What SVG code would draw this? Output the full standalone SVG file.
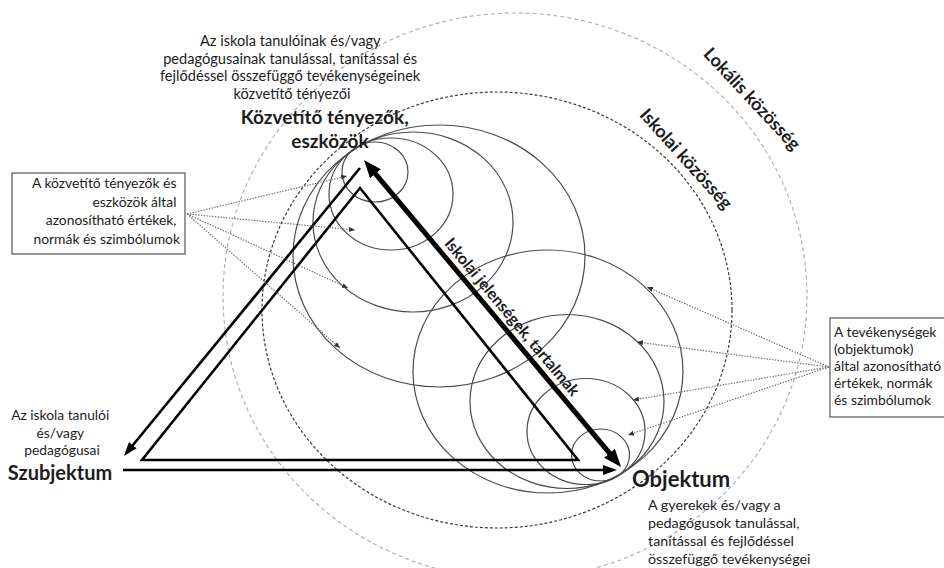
<svg xmlns="http://www.w3.org/2000/svg" width="944" height="568" viewBox="0 0 944 568">
  <defs>
    <style>
      .t{font-family:Lato,"Open Sans","DejaVu Sans",sans-serif;fill:#1c1c1c}
      .cap{font-size:14.6px}
      .box-txt{font-size:13.9px}
      .lbl{font-size:19px;font-weight:bold}
      .ring{fill:none;stroke:#4a4a4a;stroke-width:1.2}
      .dot{fill:none;stroke:#707070;stroke-width:1.2;stroke-dasharray:1.4 1.4}
      .blk{fill:none;stroke:#000;stroke-width:2.6;stroke-linejoin:miter}
      .box{fill:#fff;stroke:#555;stroke-width:1.2}
    </style>
    <marker id="ahThin" viewBox="0 0 10 10" refX="4" refY="5" markerWidth="14" markerHeight="10" markerUnits="userSpaceOnUse" orient="auto" preserveAspectRatio="none">
      <path d="M0,0 L10,5 L0,10 z" fill="#000"/>
    </marker>
    <marker id="ahThick" viewBox="0 0 10 10" refX="4" refY="5" markerWidth="18" markerHeight="14" markerUnits="userSpaceOnUse" orient="auto-start-reverse" preserveAspectRatio="none">
      <path d="M0,0 L10,5 L0,10 z" fill="#000"/>
    </marker>
    <marker id="ahDot" viewBox="0 0 10 10" refX="10" refY="5" markerWidth="6" markerHeight="5" markerUnits="userSpaceOnUse" orient="auto" preserveAspectRatio="none">
      <path d="M0,0 L10,5 L0,10 z" fill="#333"/>
    </marker>
  </defs>

  <rect width="944" height="568" fill="#fff"/>

  <!-- community boundaries -->
  <g id="lokalis-kozosseg">
    <ellipse cx="515" cy="296" rx="292" ry="283" fill="none" stroke="#ababab" stroke-width="1.1" stroke-dasharray="4 3"/>
    <text class="t" font-size="18" font-weight="bold" text-anchor="middle" transform="translate(752,99) rotate(47)" y="6">Lokális közösség</text>
  </g>
  <g id="iskolai-kozosseg">
    <ellipse cx="497" cy="310" rx="235" ry="218" fill="none" stroke="#3a3a3a" stroke-width="1.2" stroke-dasharray="3 2"/>
    <text class="t" font-size="18" font-weight="bold" text-anchor="middle" transform="translate(686,159) rotate(48)" y="6">Iskolai közösség</text>
  </g>

  <!-- nested spheres around the mediating factors -->
  <g id="kozvetito-korok">
    <ellipse class="ring" cx="439" cy="256" rx="146" ry="131"/>
    <ellipse class="ring" cx="413" cy="222" rx="100" ry="90"/>
    <ellipse class="ring" cx="391" cy="194" rx="62" ry="56"/>
    <ellipse class="ring" cx="375" cy="172" rx="33" ry="30"/>
  </g>

  <!-- nested spheres around the object -->
  <g id="objektum-korok">
    <ellipse class="ring" cx="548" cy="371.5" rx="135" ry="121.5"/>
    <ellipse class="ring" cx="567" cy="401.5" rx="97" ry="87"/>
    <ellipse class="ring" cx="586" cy="431.5" rx="59" ry="53"/>
    <ellipse class="ring" cx="600.5" cy="455" rx="29" ry="26"/>
  </g>

  <!-- connectors -->
  <g id="connectors">
    <!-- inner triangle -->
    <polygon class="blk" points="360,188 142,460 578,460"/>
    <!-- mediating factors to subject -->
    <line class="blk" x1="360" y1="168" x2="129.3" y2="449.5" marker-end="url(#ahThin)"/>
    <!-- subject to object -->
    <line class="blk" x1="123" y1="470" x2="608.6" y2="470" marker-end="url(#ahThin)"/>
    <!-- school phenomena axis -->
    <line x1="370.9" y1="168.3" x2="614.1" y2="458.7" stroke="#000" stroke-width="5" marker-start="url(#ahThick)" marker-end="url(#ahThick)"/>
    <!-- values from the mediating factors -->
    <line class="dot" x1="187" y1="214" x2="347" y2="176" marker-end="url(#ahDot)"/>
    <line class="dot" x1="187" y1="214" x2="355" y2="230" marker-end="url(#ahDot)"/>
    <line class="dot" x1="187" y1="214" x2="348" y2="288" marker-end="url(#ahDot)"/>
    <line class="dot" x1="187" y1="214" x2="340" y2="348" marker-end="url(#ahDot)"/>
    <!-- values from the activities -->
    <line class="dot" x1="829" y1="367" x2="647" y2="287" marker-end="url(#ahDot)"/>
    <line class="dot" x1="829" y1="367" x2="637" y2="342" marker-end="url(#ahDot)"/>
    <line class="dot" x1="829" y1="367" x2="633" y2="400" marker-end="url(#ahDot)"/>
    <line class="dot" x1="829" y1="367" x2="628" y2="435" marker-end="url(#ahDot)"/>
  </g>

  <g id="axis-label">
    <text class="t" font-size="16" font-weight="bold" text-anchor="middle" transform="translate(512,317) rotate(50.1)" y="5.5">Iskolai jelenségek, tartalmak</text>
  </g>

  <g id="kozvetito">
    <text class="t cap" text-anchor="middle">
      <tspan x="292" y="46">Az iskola tanulóinak és/vagy</tspan>
      <tspan x="292" y="63.5">pedagógusainak tanulással, tanítással és</tspan>
      <tspan x="292" y="81">fejlődéssel összefüggő tevékenységeinek</tspan>
      <tspan x="292" y="98.5">közvetítő tényezői</tspan>
    </text>
    <text class="t lbl" text-anchor="middle">
      <tspan x="327" y="124">Közvetítő tényezők,</tspan>
      <tspan x="330" y="148">eszközök</tspan>
    </text>
  </g>

  <g id="ertekek-kozvetito">
    <rect class="box" x="12" y="173" width="173" height="81"/>
    <text class="t box-txt" text-anchor="end">
      <tspan x="180" y="188">A közvetítő tényezők és</tspan>
      <tspan x="180" y="207">eszközök által</tspan>
      <tspan x="180" y="225">azonosítható értékek,</tspan>
      <tspan x="180" y="244">normák és szimbólumok</tspan>
    </text>
  </g>

  <g id="ertekek-objektum">
    <rect class="box" x="830" y="318" width="130" height="99"/>
    <text class="t" font-size="13.9">
      <tspan x="834" y="337">A tevékenységek</tspan>
      <tspan x="834" y="354">(objektumok)</tspan>
      <tspan x="834" y="371">által azonosítható</tspan>
      <tspan x="834" y="388">értékek, normák</tspan>
      <tspan x="834" y="405">és szimbólumok</tspan>
    </text>
  </g>

  <g id="szubjektum">
    <text class="t" font-size="13.8" text-anchor="middle">
      <tspan x="62" y="420">Az iskola tanulói</tspan>
      <tspan x="62" y="438">és/vagy</tspan>
      <tspan x="62" y="455">pedagógusai</tspan>
    </text>
    <text class="t" font-size="20" font-weight="bold" text-anchor="middle" x="60" y="480">Szubjektum</text>
  </g>

  <g id="objektum">
    <text class="t" font-size="22" font-weight="bold" x="632" y="487">Objektum</text>
    <text class="t" font-size="14.3">
      <tspan x="648" y="510">A gyerekek és/vagy a</tspan>
      <tspan x="648" y="528">pedagógusok tanulással,</tspan>
      <tspan x="648" y="546">tanítással és fejlődéssel</tspan>
      <tspan x="648" y="564">összefüggő tevékenységei</tspan>
    </text>
  </g>
</svg>
